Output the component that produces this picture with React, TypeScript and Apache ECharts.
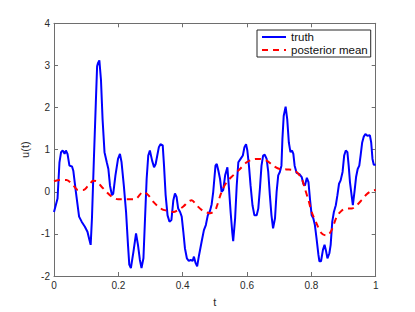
import React, { useEffect, useRef } from "react";
import * as echarts from "echarts";

const truthT = [
  0, 0.011, 0.017, 0.022, 0.027, 0.033, 0.037, 0.042, 0.048, 0.056, 0.06, 0.068, 0.078, 0.086, 0.096,
  0.104, 0.11, 0.114, 0.118, 0.124, 0.13, 0.134, 0.137, 0.141, 0.146, 0.151, 0.157, 0.164, 0.169, 0.174,
  0.18, 0.184, 0.191, 0.199, 0.205, 0.21, 0.217, 0.224, 0.23, 0.234, 0.239, 0.247, 0.255, 0.261, 0.267,
  0.272, 0.278, 0.283, 0.288, 0.293, 0.298, 0.305, 0.311, 0.316, 0.321, 0.326, 0.331, 0.338, 0.342, 0.347,
  0.353, 0.359, 0.365, 0.371, 0.376, 0.381, 0.386, 0.392, 0.397, 0.402, 0.407, 0.413, 0.419, 0.425, 0.431,
  0.435, 0.44, 0.445, 0.451, 0.459, 0.466, 0.472, 0.478, 0.485, 0.49, 0.495, 0.502, 0.506, 0.511, 0.516,
  0.521, 0.526, 0.532, 0.539, 0.544, 0.549, 0.554, 0.557, 0.563, 0.568, 0.573, 0.58, 0.587, 0.592, 0.597,
  0.601, 0.606, 0.611, 0.617, 0.623, 0.63, 0.635, 0.64, 0.645, 0.65, 0.655, 0.661, 0.666, 0.671, 0.676,
  0.681, 0.687, 0.692, 0.697, 0.702, 0.707, 0.71, 0.714, 0.72, 0.725, 0.73, 0.735, 0.74, 0.744, 0.748,
  0.754, 0.763, 0.77, 0.775, 0.78, 0.786, 0.791, 0.796, 0.801, 0.806, 0.811, 0.816, 0.822, 0.825, 0.83,
  0.836, 0.841, 0.846, 0.85, 0.856, 0.86, 0.865, 0.87, 0.876, 0.881, 0.886, 0.891, 0.897, 0.902, 0.907,
  0.912, 0.916, 0.92, 0.925, 0.929, 0.934, 0.939, 0.944, 0.949, 0.953, 0.958, 0.963, 0.968, 0.974, 0.982,
  0.986, 0.99, 0.994, 1.0,
];
const truthU = [
  -0.48, -0.16, 0.7, 0.94, 0.98, 0.9, 0.98, 0.9, 0.62, 0.6, 0.5, 0.0, -0.59, -0.71, -0.83,
  -0.95, -1.14, -1.26, -0.63, 0.78, 2.11, 2.98, 3.06, 3.12, 2.66, 1.72, 0.94, 0.7, 0.54, 0.15,
  -0.08, -0.05, 0.39, 0.78, 0.9, 0.7, 0.15, -0.48, -1.26, -1.73, -1.81, -1.42, -0.99, -1.26, -1.62,
  -1.81, -1.58, -0.63, 0.31, 0.86, 0.98, 0.74, 0.58, 0.66, 0.86, 1.06, 1.13, 1.1, 0.62, -0.08,
  -0.56, -0.71, -0.67, -0.2, -0.04, -0.12, -0.4, -0.48, -0.59, -0.95, -1.34, -1.58, -1.64, -1.62, -1.64,
  -1.54, -1.69, -1.77, -1.5, -1.18, -0.91, -0.79, -0.56, -0.45, -0.3, 0.0, 0.62, 0.66, 0.5, 0.31,
  0.0, 0.04, 0.39, 0.58, 0.07, -0.48, -0.95, -1.17, -0.63, 0.15, 0.7, 0.78, 0.86, 1.06, 1.13,
  0.98, 0.62, 0.15, -0.32, -0.56, -0.56, -0.4, 0.07, 0.62, 0.86, 0.88, 0.78, 0.47, -0.08, -0.56,
  -0.87, -0.63, 0.0, 0.39, 0.47, 0.62, 1.25, 1.8, 2.02, 1.72, 1.17, 0.94, 0.98, 0.9, 0.62,
  0.45, 0.42, 0.35, 0.19, 0.15, 0.33, 0.23, -0.2, -0.56, -0.63, -0.79, -1.1, -1.5, -1.65, -1.65,
  -1.38, -1.26, -1.42, -1.58, -1.46, -1.26, -0.71, -0.48, -0.32, -0.08, 0.19, 0.27, 0.47, 0.86, 0.98,
  0.94, 0.62, 0.23, -0.08, -0.32, 0.0, 0.35, 0.54, 0.62, 0.86, 1.17, 1.31, 1.37, 1.33, 1.34,
  1.17, 0.78, 0.64, 0.64,
];

const meanT = [
  0, 0.019, 0.039, 0.06, 0.075, 0.091, 0.107, 0.122, 0.132, 0.148, 0.164, 0.18, 0.199, 0.225, 0.251,
  0.278, 0.293, 0.309, 0.324, 0.34, 0.355, 0.371, 0.386, 0.402, 0.417, 0.428, 0.443, 0.459, 0.474, 0.485,
  0.5, 0.506, 0.521, 0.537, 0.557, 0.578, 0.599, 0.62, 0.64, 0.661, 0.681, 0.702, 0.723, 0.749, 0.77,
  0.78, 0.791, 0.801, 0.816, 0.832, 0.848, 0.863, 0.879, 0.894, 0.91, 0.925, 0.941, 0.956, 0.972, 0.987,
  1.0,
];
const meanU = [
  0.25, 0.28, 0.28, 0.15, 0.04, 0.04, 0.15, 0.26, 0.25, 0.12, -0.01, -0.12, -0.18, -0.18, -0.18,
  0.0, -0.08, -0.24, -0.35, -0.43, -0.45, -0.48, -0.43, -0.35, -0.24, -0.2, -0.32, -0.43, -0.49, -0.51,
  -0.45, -0.35, 0.0, 0.23, 0.39, 0.54, 0.7, 0.77, 0.78, 0.74, 0.62, 0.54, 0.53, 0.5, 0.31,
  0.07, -0.2, -0.48, -0.75, -0.99, -1.04, -0.91, -0.59, -0.45, -0.4, -0.4, -0.32, -0.2, -0.06, 0.02,
  0.04,
];

const seriesNames = ["truth", "posterior mean"];
const xTicks = [0, 1, 0.2];
const yTicks = [-2, 4, 1];

const FONT = "'Liberation Sans', Arial, Helvetica, sans-serif";

export default function App() {
  const ref = useRef<HTMLDivElement>(null);
  useEffect(() => {
    if (!ref.current) return;
    const chart = echarts.init(ref.current, undefined, { renderer: "svg" });
    const axisLine = { show: true, onZero: false, lineStyle: { color: "#6e6e6e", width: 1 } };
    const axisTick = { show: true, inside: true, length: 4, lineStyle: { color: "#6e6e6e", width: 1 } };
    const labelStyle = { color: "#2a2a2a", fontSize: 10, fontFamily: FONT };
    chart.setOption({
      animation: false,
      backgroundColor: "#ffffff",
      grid: { left: 54, right: 39.3, top: 23.3, bottom: 34, containLabel: false },
      legend: {
        data: seriesNames,
        orient: "vertical",
        left: 257,
        top: 30,
        backgroundColor: "#ffffff",
        borderColor: "#262626",
        borderWidth: 1,
        borderRadius: 0,
        padding: [1, 3, 1, 4],
        itemGap: 1,
        itemWidth: 24,
        itemHeight: 12,
        itemStyle: { opacity: 0 },
        textStyle: { fontSize: 11.5, fontFamily: FONT, color: "#111", lineHeight: 12 },
      },
      xAxis: [
        {
          type: "value",
          min: xTicks[0],
          max: xTicks[1],
          interval: xTicks[2],
          position: "bottom",
          name: "t",
          nameLocation: "middle",
          nameGap: 20,
          nameTextStyle: { fontSize: 11, fontFamily: FONT, color: "#2a2a2a" },
          axisLine,
          axisTick,
          axisLabel: { ...labelStyle, margin: 4 },
          splitLine: { show: false },
        },
        {
          type: "value",
          min: xTicks[0],
          max: xTicks[1],
          interval: xTicks[2],
          position: "top",
          axisLine,
          axisTick,
          axisLabel: { show: false },
          splitLine: { show: false },
        },
      ],
      yAxis: [
        {
          type: "value",
          min: yTicks[0],
          max: yTicks[1],
          interval: yTicks[2],
          position: "left",
          name: "u(t)",
          nameLocation: "middle",
          nameGap: 21,
          nameTextStyle: { fontSize: 11, fontFamily: FONT, color: "#2a2a2a" },
          axisLine,
          axisTick,
          axisLabel: { ...labelStyle, margin: 4 },
          splitLine: { show: false },
        },
        {
          type: "value",
          min: yTicks[0],
          max: yTicks[1],
          interval: yTicks[2],
          position: "right",
          axisLine,
          axisTick,
          axisLabel: { show: false },
          splitLine: { show: false },
        },
      ],
      series: [
        {
          name: seriesNames[0],
          type: "line",
          xAxisIndex: 0,
          yAxisIndex: 0,
          data: truthT.map((t, i) => [t, truthU[i]]),
          symbol: "none",
          color: "#0000ff",
          lineStyle: { color: "#0000ff", width: 2 },
          z: 2,
        },
        {
          name: seriesNames[1],
          type: "line",
          xAxisIndex: 0,
          yAxisIndex: 0,
          data: meanT.map((t, i) => [t, meanU[i]]),
          symbol: "none",
          smooth: 0.3,
          color: "#ff0000",
          lineStyle: { color: "#ff0000", width: 2, type: [6, 5] },
          z: 3,
        },
      ],
    });
    return () => chart.dispose();
  }, []);
  return (
    <div
      ref={ref}
      style={{ position: "fixed", left: 0, top: 0, width: 415, height: 312, background: "#fff" }}
    />
  );
}
